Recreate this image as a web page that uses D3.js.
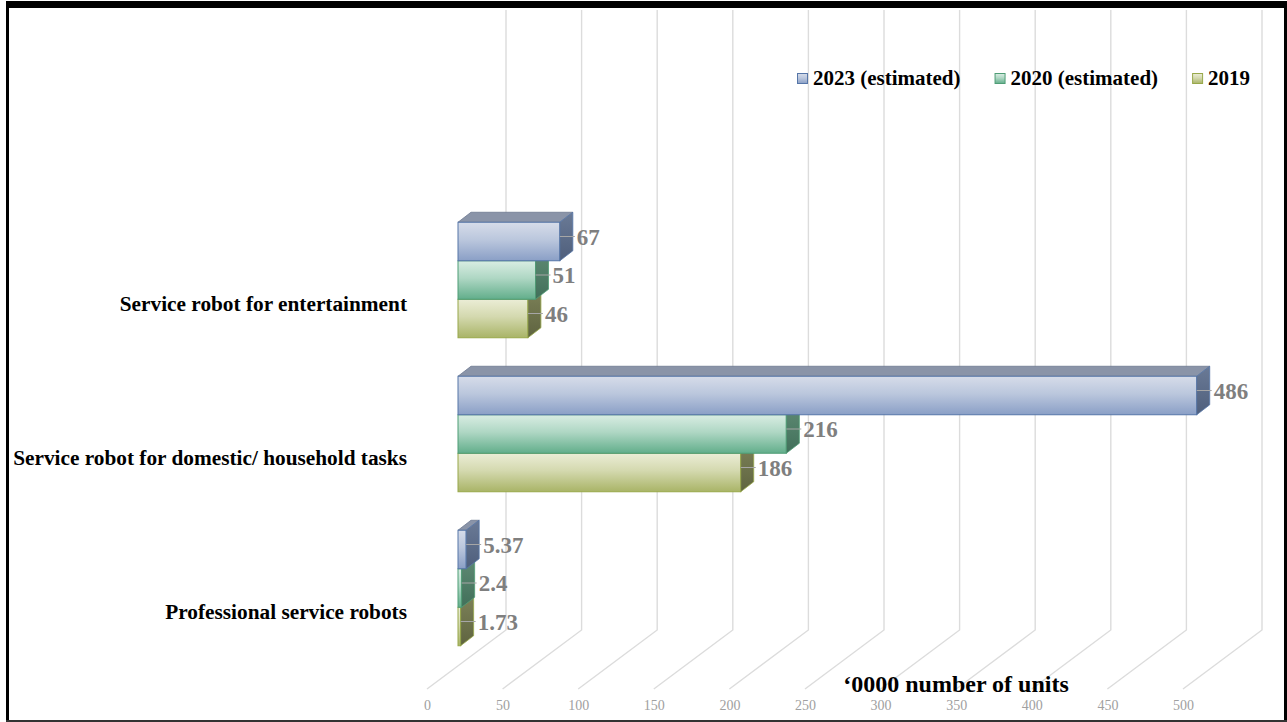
<!DOCTYPE html>
<html>
<head>
<meta charset="utf-8">
<script src="https://cdn.jsdelivr.net/npm/d3@7"></script>
<style>
  html, body { margin: 0; padding: 0; background: #fff; }
  svg { display: block; }
  text { font-family: "Liberation Serif", "Times New Roman", serif; }
</style>
</head>
<body>
<svg id="chart" width="1287" height="722"></svg>
<script>
// ---- data ----
const categories = ["Service robot for entertainment", "Service robot for domestic/ household tasks", "Professional service robots"];
const seriesNames = ["2023 (estimated)", "2020 (estimated)", "2019"];
const values2023 = [67, 486, 5.37];
const values2020 = [51, 216, 2.4];
const values2019 = [46, 186, 1.73];
const tickValues = [0, 50, 100, 150, 200, 250, 300, 350, 400, 450, 500];
const axisTitle = "\u20180000 number of units";

const seriesValues = [values2023, values2020, values2019];

// ---- styles ----
const palette = [
  { top: "#d6dce9", bottom: "#8a9fc6", stroke: "#5676a8", roof: "#8a94a8", side1: "#6a7a96", side2: "#4f5f7c" },
  { top: "#d9ede3", bottom: "#62ae8b", stroke: "#4f9d76", roof: "#7f9a8c", side1: "#5f8a74", side2: "#41705a" },
  { top: "#ebedd6", bottom: "#a9b467", stroke: "#98a84a", roof: "#9a9c80", side1: "#7c8158", side2: "#5f6440" }
];

const svg = d3.select("#chart");
const defs = svg.append("defs");
palette.forEach((p, i) => {
  const g = defs.append("linearGradient").attr("id", "front" + i).attr("x1", 0).attr("y1", 0).attr("x2", 0).attr("y2", 1);
  g.append("stop").attr("offset", "0%").attr("stop-color", p.top);
  g.append("stop").attr("offset", "45%").attr("stop-color", d3.interpolateRgb(p.top, p.bottom)(0.35));
  g.append("stop").attr("offset", "100%").attr("stop-color", p.bottom);
  const s = defs.append("linearGradient").attr("id", "side" + i).attr("x1", 0).attr("y1", 0).attr("x2", 0).attr("y2", 1);
  s.append("stop").attr("offset", "0%").attr("stop-color", p.side1);
  s.append("stop").attr("offset", "100%").attr("stop-color", p.side2);
});

// scales
const xFront = d3.scaleLinear().domain([0, 500]).range([427, 1183]);
const xBack = d3.scaleLinear().domain([0, 500]).range([506, 1262]);
const xBar = d3.scaleLinear().domain([0, 500]).range([458, 1218]);
const yCat = d3.scaleBand().domain(categories).range([203, 665]).paddingInner(0.25).paddingOuter(0.125);
const ySer = d3.scaleBand().domain(seriesNames).range([0, yCat.bandwidth()]);

const backTop = 10, backBottom = 630, frontY = 689;
const depthDx = 13, depthDy = -10;

// gridlines (back wall + floor)
const grid = svg.append("g").attr("stroke", "#dcdcdc").attr("stroke-width", 1.4).attr("fill", "none");
tickValues.forEach(v => {
  grid.append("path").attr("d", d3.line()([[xBack(v), backTop], [xBack(v), backBottom], [xFront(v), frontY]]));
});

// x axis tick labels
const axis = svg.append("g").attr("transform", "translate(0,700)")
  .call(d3.axisBottom(xFront).tickValues(tickValues).tickSize(0).tickPadding(0).tickFormat(d3.format("d")));
axis.select(".domain").remove();
axis.selectAll("text")
  .attr("font-family", "Liberation Serif, Times New Roman, serif")
  .attr("font-size", 14).attr("fill", "#a0a0a0").attr("dy", "0.71em");

// bars: draw bottom series first so upper ones overlap
const barsG = svg.append("g");
categories.forEach((c, ci) => {
  for (let si = seriesNames.length - 1; si >= 0; si--) {
    const v = seriesValues[si][ci];
    const x0 = xBar(0), x1 = xBar(v);
    const y0 = yCat(c) + ySer(seriesNames[si]);
    const h = ySer.bandwidth();
    const p = palette[si];
    const g = barsG.append("g");
    // top face
    g.append("path")
      .attr("d", d3.line()([[x0, y0], [x0 + depthDx, y0 + depthDy], [x1 + depthDx, y0 + depthDy], [x1, y0]]) + "Z")
      .attr("fill", p.roof).attr("stroke", "#6d7890").attr("stroke-width", 0.8);
    // front face
    g.append("rect").attr("x", x0).attr("y", y0).attr("width", x1 - x0).attr("height", h)
      .attr("fill", `url(#front${si})`).attr("stroke", p.stroke).attr("stroke-width", 1);
    // side face
    g.append("path")
      .attr("d", d3.line()([[x1, y0], [x1 + depthDx, y0 + depthDy], [x1 + depthDx, y0 + h + depthDy], [x1, y0 + h]]) + "Z")
      .attr("fill", `url(#side${si})`).attr("stroke", p.stroke).attr("stroke-width", 0.8);
  }
});

// data labels
const labelsG = svg.append("g");
categories.forEach((c, ci) => {
  seriesNames.forEach((s, si) => {
    const v = seriesValues[si][ci];
    const x1 = xBar(v);
    const yMid = yCat(c) + ySer(s) + ySer.bandwidth() / 2 - 5;
    labelsG.append("line").attr("x1", x1).attr("x2", x1 + depthDx + 2).attr("y1", yMid).attr("y2", yMid)
      .attr("stroke", "#a6a6a6").attr("stroke-width", 1);
    labelsG.append("text").attr("x", x1 + depthDx + 4).attr("y", yMid).attr("dy", "0.35em")
      .attr("font-size", 23).attr("font-weight", "bold").attr("fill", "#7f7f7f")
      .text(String(v));
  });
});

// category labels
svg.append("g").selectAll("text").data(categories).join("text")
  .attr("x", 407).attr("y", d => yCat(d) + yCat.bandwidth() / 2 + 24).attr("dy", "0.35em")
  .attr("text-anchor", "end").attr("font-size", 21.3).attr("font-weight", "bold").attr("fill", "#000")
  .text(d => d);

// axis title
svg.append("text").attr("x", 956).attr("y", 692).attr("text-anchor", "middle")
  .attr("font-size", 24).attr("font-weight", "bold").attr("fill", "#000").text(axisTitle);

// legend
const legend = svg.append("g");
let lx = 797;
seriesNames.forEach((s, si) => {
  const p = palette[si];
  legend.append("rect").attr("x", lx + 0.5).attr("y", 73.5).attr("width", 10).attr("height", 10)
    .attr("fill", `url(#front${si})`).attr("stroke", p.stroke).attr("stroke-width", 1);
  const t = legend.append("text").attr("x", lx + 16).attr("y", 85)
    .attr("font-size", 21).attr("font-weight", "bold").attr("fill", "#000").text(s);
  lx += 16 + t.node().getComputedTextLength() + 34;
});

// frame
svg.append("rect").attr("x", 6).attr("y", 1).attr("width", 1281).attr("height", 7).attr("fill", "#000");
svg.append("rect").attr("x", 6).attr("y", 1).attr("width", 3).attr("height", 721).attr("fill", "#000");
svg.append("rect").attr("x", 1284).attr("y", 1).attr("width", 3).attr("height", 721).attr("fill", "#000");
svg.append("rect").attr("x", 6).attr("y", 720).attr("width", 1281).attr("height", 2).attr("fill", "#333");
</script>
</body>
</html>
